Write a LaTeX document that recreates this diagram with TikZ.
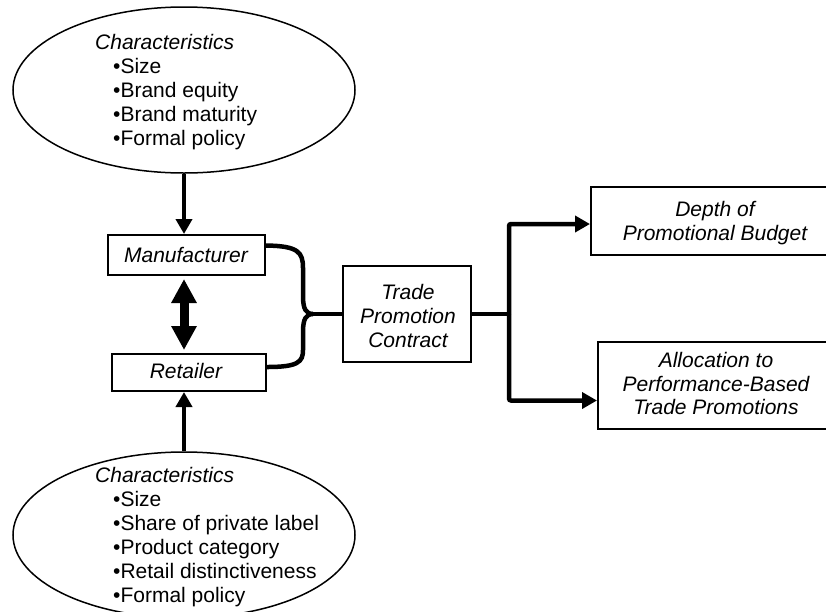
\documentclass[tikz,border=0pt]{standalone}
\usepackage{fontspec}
\setmainfont{Liberation Sans}
\usetikzlibrary{arrows.meta,shapes.geometric}
\begin{document}
\begin{tikzpicture}[x=1pt,y=-1pt,
  txt/.style={inner sep=0pt, font=\fontsize{21}{24}\selectfont},
  itx/.style={inner sep=0pt, font=\fontsize{21}{24}\selectfont\itshape},
  ell/.style={draw, ellipse, line width=1.5pt, minimum width=342pt, minimum height=166pt, inner sep=0pt},
  box/.style={draw, rectangle, line width=2pt, inner sep=0pt},
  conn/.style={line width=4.5pt},
  arr/.style={line width=4.5pt, -{Triangle[length=15pt,width=16pt]}},
  dbl/.style={line width=9pt, {Triangle[length=24pt,width=24pt]}-{Triangle[length=24pt,width=24pt]}}
]
\useasboundingbox (0,0) rectangle (826,611);
\clip (0,0) rectangle (826,611);

% ellipses
\node[ell] (ell1) at (184,90) {};
\node[ell] (ell2) at (184,535) {};

% top ellipse text
\node[itx, anchor=base west] (ta0) at (95,49.7) {Characteristics};
\foreach \t [count=\i] in {Size, Brand equity, Brand maturity, Formal policy}
  \node[txt, anchor=base west] (ta\i) at (113,49.7+24*\i) {•\t};

% bottom ellipse text
\node[itx, anchor=base west] (tb0) at (95,482) {Characteristics};
\foreach \t [count=\i] in {Size, Share of private label, Product category, Retail distinctiveness, Formal policy}
  \node[txt, anchor=base west] (tb\i) at (113,482+24*\i) {•\t};

% boxes
\node[box, minimum width=157pt, minimum height=40pt] (mfr) at (186.5,255) {};
\node[itx, anchor=base] (mfrt) at (186,262) {Manufacturer};
\node[box, minimum width=154pt, minimum height=37pt] (ret) at (189,372.5) {};
\node[itx, anchor=base] (rett) at (186,378) {Retailer};

\node[box, minimum width=128pt, minimum height=96pt] (trade) at (407,314) {};
\node[itx, anchor=base] (tr1) at (408,299) {Trade};
\node[itx, anchor=base] (tr2) at (408,323) {Promotion};
\node[itx, anchor=base] (tr3) at (408,347) {Contract};

\node[box, minimum width=249pt, minimum height=68pt] (depth) at (715.5,221) {};
\node[itx, anchor=base] (dp1) at (715,216) {Depth of};
\node[itx, anchor=base] (dp2) at (715,240) {Promotional Budget};

\node[box, minimum width=238pt, minimum height=87pt] (alloc) at (717,385.5) {};
\node[itx, anchor=base] (al1) at (716,367) {Allocation to};
\node[itx, anchor=base] (al2) at (716,391) {Performance-Based};
\node[itx, anchor=base] (al3) at (716,414.5) {Trade Promotions};

% vertical arrows
\draw[arr] (ell1.south) -- (ell1.south |- mfr.north);
\draw[arr] (ell2.north) -- (ell2.north |- ret.south);
\draw[dbl, shorten <=3pt, shorten >=3pt] (ell1.south |- mfr.south) -- (ell1.south |- ret.north);

% brace
\coordinate (jn) at (313,314);
\draw[conn] ([yshift=9.5pt]mfr.east) .. controls (298,246) and (303,252) .. (303,268)
  -- (303,296) .. controls (303,309) and (306,314) .. (jn);
\draw[conn] ([yshift=5.5pt]ret.east) .. controls (298,367) and (303,362) .. (303,350)
  -- (303,332) .. controls (303,319) and (306,314) .. (jn);
\draw[conn] (jn) -- (trade.west);

% branch
\coordinate (br) at (509,314);
\draw[conn] (trade.east) -- (br);
\draw[arr, rounded corners=2pt] (br) |- ([yshift=-3pt]depth.west);
\draw[arr, rounded corners=2pt] (br) |- ([yshift=-15pt]alloc.west);
\end{tikzpicture}
\end{document}
